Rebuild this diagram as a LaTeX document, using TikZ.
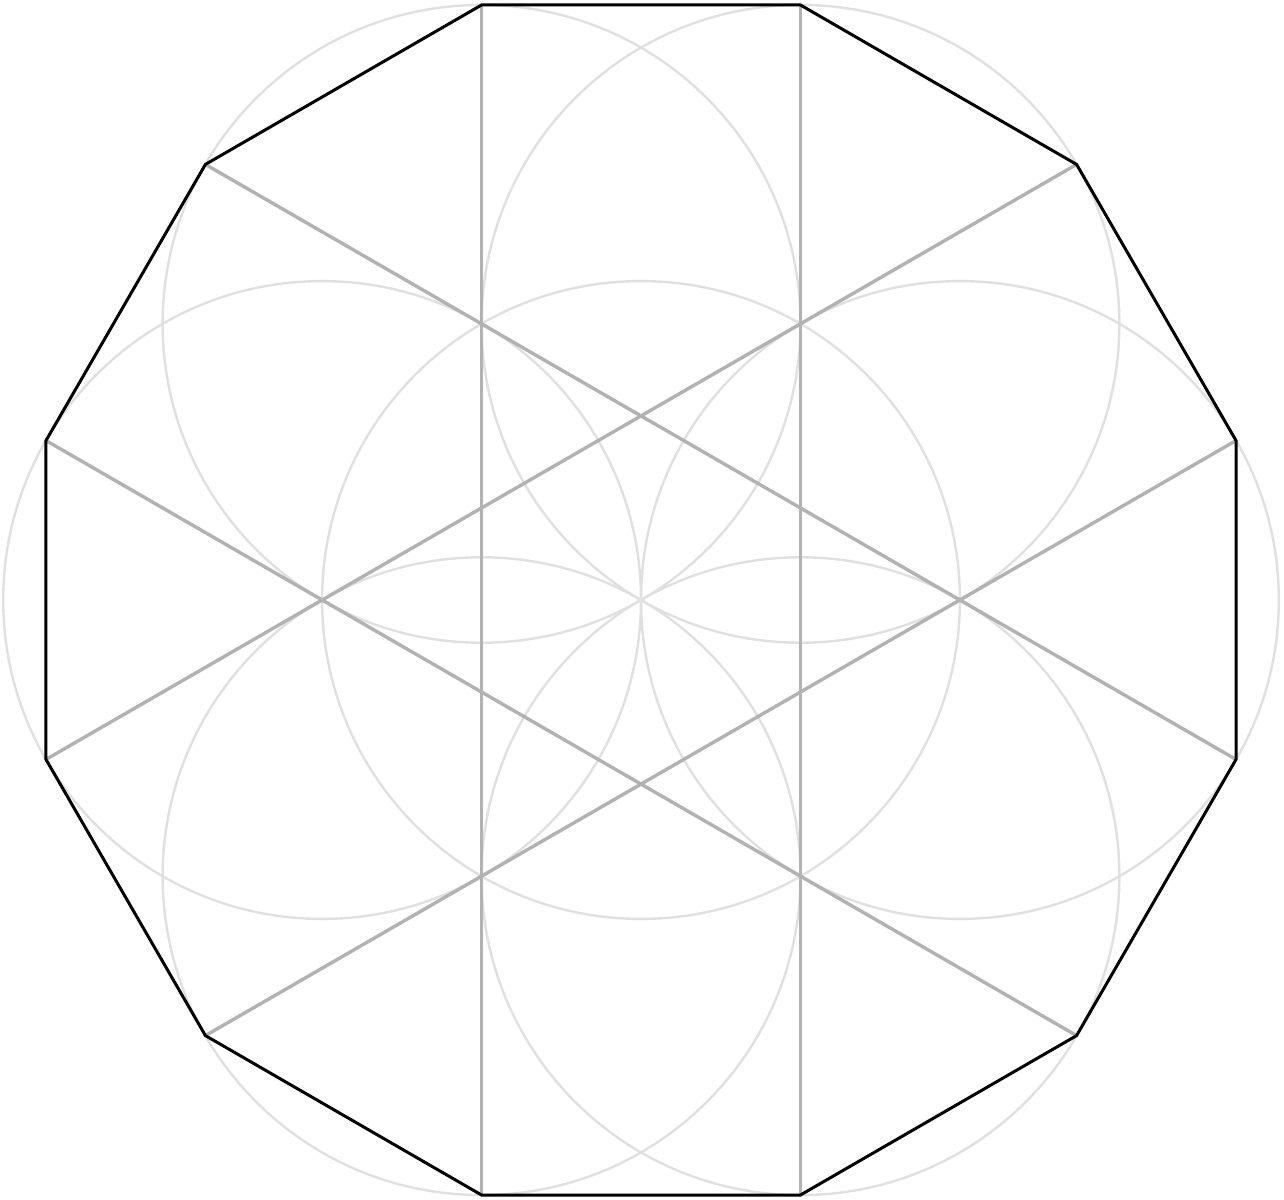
\documentclass[tikz,border=0pt]{standalone}
\usetikzlibrary{calc}
\begin{document}
\begin{tikzpicture}[x=1pt,y=1pt,
  seed/.style={draw=black!12,line width=2.4pt},
  chord/.style={draw=black!30,line width=3.4pt},
  edge/.style={draw=black,line width=3pt,line join=miter}]
\useasboundingbox (0,0) rectangle (1284,-1199);
\coordinate (O) at (641,-600);
\def\R{616}
\def\r{318.9}
% vertices
\foreach \k in {0,...,11}{
  \coordinate (v\k) at ($(O)+({15+30*\k}:\R)$);
}
% seed-of-life circles
\draw[seed] (O) circle[radius=\r];
\foreach \a in {0,60,...,300}{
  \draw[seed] ($(O)+(\a:\r)$) circle[radius=\r];
}
% chords
\draw[chord] (v3) -- (v8);
\draw[chord] (v2) -- (v9);
\draw[chord] (v4) -- (v11);
\draw[chord] (v5) -- (v10);
\draw[chord] (v1) -- (v6);
\draw[chord] (v0) -- (v7);
% dodecagon
\draw[edge] (v0) \foreach \k in {1,...,11}{ -- (v\k)} -- cycle;
\end{tikzpicture}
\end{document}
